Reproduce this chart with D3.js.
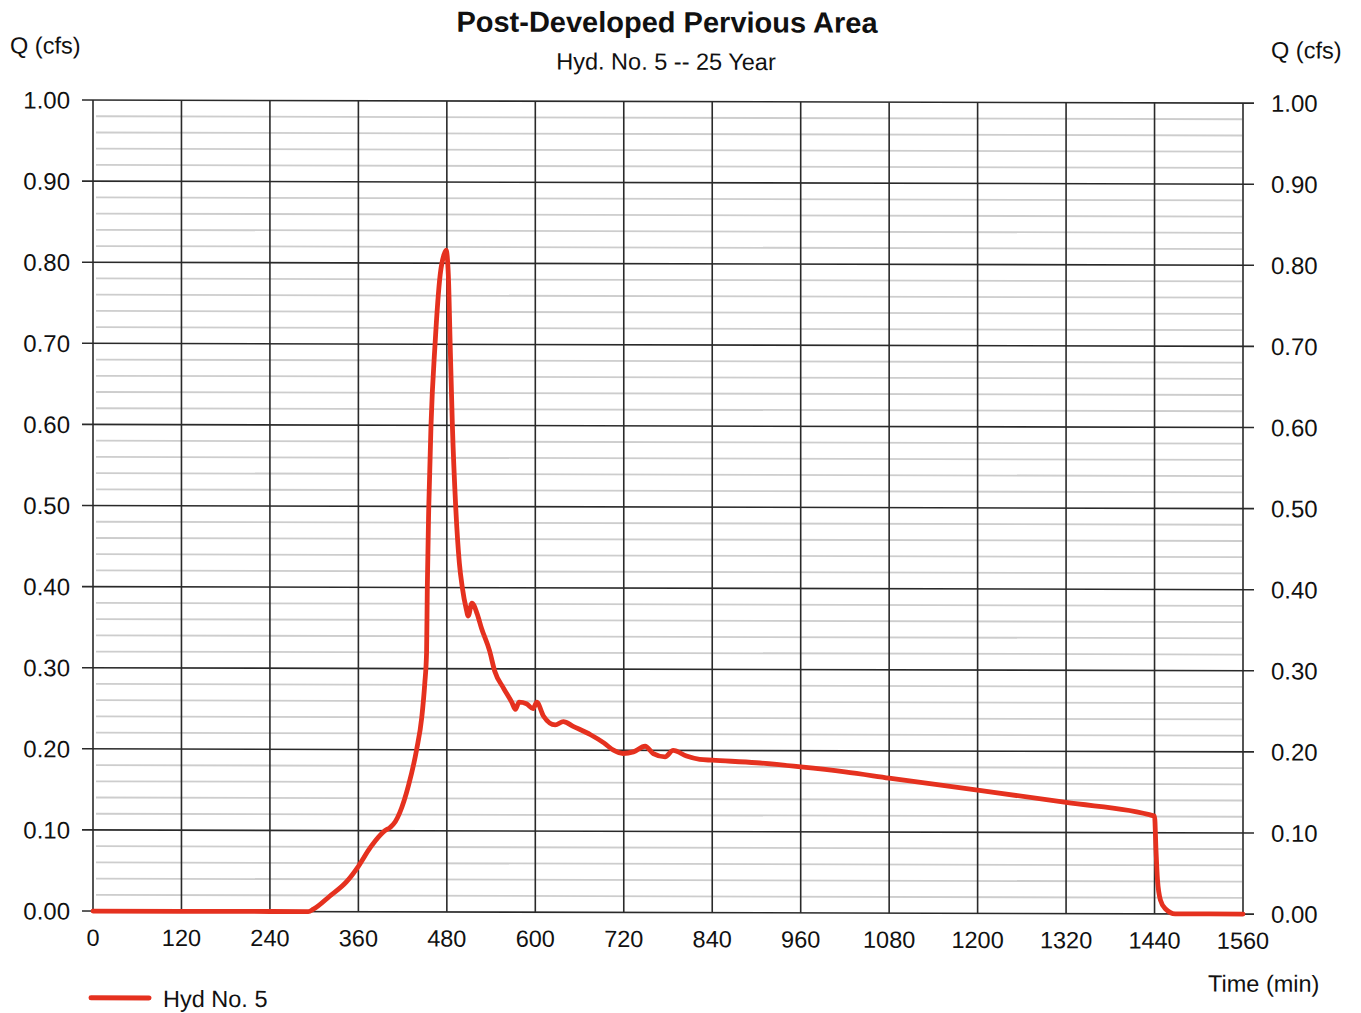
<!DOCTYPE html>
<html>
<head>
<meta charset="utf-8">
<script src="https://cdn.jsdelivr.net/npm/d3@7"></script>
<style>
  html, body { margin: 0; padding: 0; background: #ffffff; }
  svg { display: block; }
  text { font-family: "Liberation Sans", Arial, Helvetica, sans-serif; fill: #111; }
</style>
</head>
<body>
<svg id="chart" width="1361" height="1013"></svg>
<script>
// Hydrograph: Post-Developed Pervious Area, Hyd. No. 5, 25-year storm
const timeMin = [0, 120, 240, 292, 299, 321, 344, 360, 376, 389, 396, 403, 410, 416, 428, 439, 446, 450,
  452.5, 453.5, 455.5, 458.5, 464, 471, 476, 479, 482, 484.5, 487.5, 492, 497, 501, 506, 509, 514, 521,
  527, 538, 545, 557, 568, 573, 578, 588, 597, 602, 611, 627, 638, 652, 675, 693, 706, 719, 733, 749,
  760, 776, 787, 805, 823, 840, 900, 960, 1020, 1080, 1200, 1320, 1440, 1442, 1444, 1448, 1455, 1468, 1560];
const flowCfs = [0, 0, 0, 0, 0.003, 0.019, 0.037, 0.056, 0.079, 0.094, 0.100, 0.104, 0.111, 0.122, 0.156, 0.200, 0.240, 0.281,
  0.320, 0.400, 0.500, 0.600, 0.700, 0.786, 0.810, 0.816, 0.786, 0.700, 0.600, 0.500, 0.430, 0.400, 0.375, 0.365, 0.381, 0.368,
  0.350, 0.322, 0.297, 0.276, 0.259, 0.250, 0.259, 0.257, 0.251, 0.259, 0.242, 0.231, 0.235, 0.229, 0.219, 0.209, 0.200, 0.196, 0.198, 0.205,
  0.196, 0.192, 0.200, 0.193, 0.189, 0.188, 0.185, 0.180, 0.174, 0.1665, 0.152, 0.137, 0.1205, 0.078, 0.042, 0.017, 0.006, 0, 0];

const xTicks = [0, 120, 240, 360, 480, 600, 720, 840, 960, 1080, 1200, 1320, 1440, 1560];
const yTicks = [0, 0.1, 0.2, 0.3, 0.4, 0.5, 0.6, 0.7, 0.8, 0.9, 1.0];
const yMinorTicks = d3.range(0, 1.0001, 0.02);

const titleText = "Post-Developed Pervious Area";
const subtitleText = "Hyd. No. 5 -- 25 Year";
const yAxisLabel = "Q (cfs)";
const xAxisLabel = "Time (min)";
const seriesName = "Hyd No. 5";

const lineColor = "#e5311f";
const plot = { left: 93, right: 1243, top: 99.8, bottom: 910.8 };

const svg = d3.select("#chart");
svg.append("rect").attr("width", 1361).attr("height", 1013).attr("fill", "#fff");

// whole drawing sits on a very slight tilt
const g = svg.append("g").attr("transform", "skewY(0.15)");

const x = d3.scaleLinear().domain([0, 1560]).range([plot.left, plot.right]);
const y = d3.scaleLinear().domain([0, 1]).range([plot.bottom, plot.top]);

// minor horizontal grid
g.append("g")
  .selectAll("line")
  .data(yMinorTicks.filter(v => Math.round(v * 100) % 10 !== 0))
  .join("line")
  .attr("x1", plot.left + 3).attr("x2", plot.right - 1)
  .attr("y1", d => y(d)).attr("y2", d => y(d))
  .attr("stroke", "#cdcdcd").attr("stroke-width", 1.8);

// major horizontal grid (extends past both sides as ticks)
g.append("g")
  .selectAll("line")
  .data(yTicks)
  .join("line")
  .attr("x1", plot.left - 11).attr("x2", plot.right + 11)
  .attr("y1", d => y(d)).attr("y2", d => y(d))
  .attr("stroke", "#2a2a2a").attr("stroke-width", 1.6);

// vertical grid
g.append("g")
  .selectAll("line")
  .data(xTicks)
  .join("line")
  .attr("x1", d => x(d)).attr("x2", d => x(d))
  .attr("y1", plot.top).attr("y2", plot.bottom)
  .attr("stroke", "#2a2a2a").attr("stroke-width", 1.6);

// left axis labels
const fmt = d3.format(".2f");
g.append("g")
  .selectAll("text")
  .data(yTicks)
  .join("text")
  .attr("x", 70).attr("y", d => y(d)).attr("dy", "0.36em")
  .attr("text-anchor", "end").attr("font-size", 24)
  .text(d => fmt(d));

// right axis labels
g.append("g")
  .selectAll("text")
  .data(yTicks)
  .join("text")
  .attr("x", 1271).attr("y", d => y(d)).attr("dy", "0.36em")
  .attr("text-anchor", "start").attr("font-size", 24)
  .text(d => fmt(d));

// bottom axis labels
g.append("g")
  .selectAll("text")
  .data(xTicks)
  .join("text")
  .attr("x", d => x(d)).attr("y", 937).attr("dy", "0.36em")
  .attr("text-anchor", "middle").attr("font-size", 23.5)
  .text(d => d);

// hydrograph
const line = d3.line()
  .x((d, i) => x(timeMin[i]))
  .y(d => y(d))
  .curve(d3.curveMonotoneX);

g.append("path")
  .datum(flowCfs)
  .attr("d", line)
  .attr("fill", "none")
  .attr("stroke", lineColor)
  .attr("stroke-width", 4.8)
  .attr("stroke-linejoin", "round")
  .attr("stroke-linecap", "round");

// titles and axis names
g.append("text").attr("x", 667).attr("y", 20).attr("dy", "0.36em")
  .attr("text-anchor", "middle").attr("font-size", 29).attr("font-weight", "bold")
  .text(titleText);
g.append("text").attr("x", 666).attr("y", 59.5).attr("dy", "0.36em")
  .attr("text-anchor", "middle").attr("font-size", 23.5)
  .text(subtitleText);
g.append("text").attr("x", 10).attr("y", 45).attr("dy", "0.36em")
  .attr("font-size", 23.5).text(yAxisLabel);
g.append("text").attr("x", 1271).attr("y", 46.5).attr("dy", "0.36em")
  .attr("font-size", 23.5).text(yAxisLabel);
g.append("text").attr("x", 1208).attr("y", 980).attr("dy", "0.36em")
  .attr("font-size", 23.5).text(xAxisLabel);

// legend
const legend = g.append("g");
legend.append("line")
  .attr("x1", 91).attr("x2", 149).attr("y1", 997.5).attr("y2", 997.5)
  .attr("stroke", lineColor).attr("stroke-width", 5).attr("stroke-linecap", "round");
legend.append("text").attr("x", 163).attr("y", 998).attr("dy", "0.36em")
  .attr("font-size", 23.5).text(seriesName);
</script>
</body>
</html>
